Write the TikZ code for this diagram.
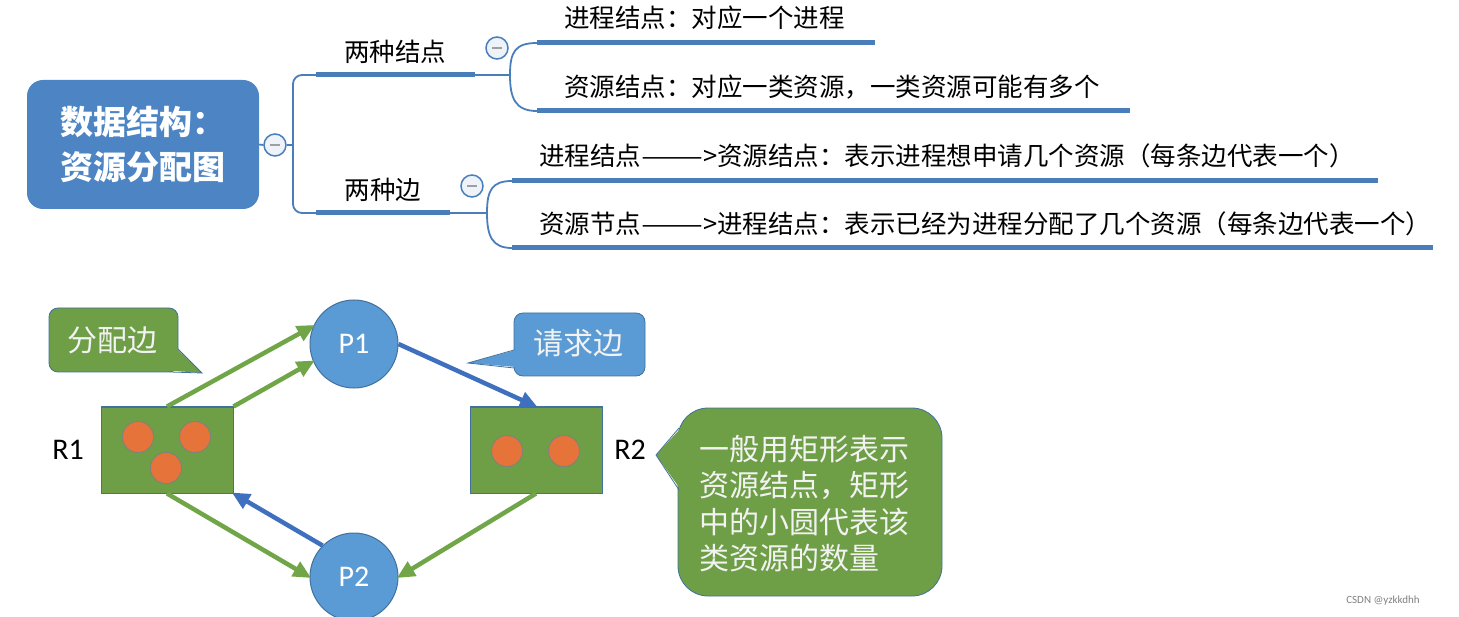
\documentclass[tikz,border=0pt]{standalone}
\usepackage{fontspec}
\setmainfont{Noto Sans CJK SC}
\newfontfamily\latfont{Carlito}
\usetikzlibrary{arrows.meta}
\definecolor{mmblue}{HTML}{4A7EBB}
\definecolor{rootfill}{HTML}{4C84C4}
\definecolor{minusfill}{HTML}{EEF3FA}
\definecolor{pfill}{HTML}{5B9BD5}
\definecolor{pborder}{HTML}{41719C}
\definecolor{grn}{HTML}{70A548}
\definecolor{gfill}{HTML}{6E9E45}
\definecolor{org}{HTML}{E6743A}
\definecolor{barrow}{HTML}{3F6FBF}
\definecolor{ltext}{HTML}{F2F2F2}
\newcommand{\wdash}{\scalebox{1.45}[1]{——}}
\tikzset{
  bar/.style={draw=mmblue, line width=5pt},
  thinline/.style={draw=mmblue, line width=1.8pt},
  minus/.style={circle, draw=mmblue, line width=1.5pt, fill=minusfill, minimum size=22pt, inner sep=0pt,
    path picture={\draw[gray!75, line width=2.2pt] ([xshift=-5pt]path picture bounding box.center) -- ([xshift=5pt]path picture bounding box.center);}},
  mmtext/.style={font=\fontsize{25.5}{30}\selectfont, inner sep=0pt, text=black},
  proc/.style={circle, fill=pfill, draw=pborder, line width=1pt, minimum size=88pt, inner sep=0pt,
    font=\latfont\fontsize{30}{32}\selectfont, text=white},
  res/.style={rectangle, fill=gfill, draw=pborder, line width=1pt, minimum width=132pt, minimum height=86pt, inner sep=0pt},
  unit/.style={circle, fill=org, draw=gray, line width=0.8pt, minimum size=31pt, inner sep=0pt},
  rlabel/.style={font=\latfont\fontsize{30}{32}\selectfont, text=black, inner sep=0pt},
  garrow/.style={draw=grn, line width=4.5pt, -{Triangle[length=18pt,width=16pt]}, shorten >=-2pt},
  barrowst/.style={draw=barrow, line width=4.5pt, -{Triangle[length=18pt,width=16pt]}, shorten >=-2pt},
  callout/.style={rounded corners=9pt, draw=pborder, line width=0.8pt},
  ctext/.style={font=\fontsize{30}{36.3}\selectfont, text=ltext, inner sep=0pt},
}
\begin{document}
\begin{tikzpicture}[x=1pt,y=-1pt]
\useasboundingbox (0,0) rectangle (1459,617);

% ---------- mind map ----------
\node[rectangle, rounded corners=16pt, fill=rootfill, minimum width=232pt, minimum height=129pt,
      text=white, align=center, font=\bfseries\fontsize{33}{45}\selectfont] (root) at (143,144.5)
      {数据结构：\\资源分配图};
\node[minus] (m0) at (275,145) {};
\draw[thinline] (root.east) -- (m0.west);
\coordinate (j0) at (293,145);
\draw[thinline] (m0.east) -- (j0);
\coordinate (b1a) at (316,75);
\coordinate (b1b) at (475,75);
\coordinate (b1c) at (510,75);
\coordinate (b2a) at (316,213);
\coordinate (b2b) at (450,213);
\coordinate (b2c) at (487,213);
\draw[thinline, rounded corners=9pt] (b1a) -- (293,75) -- (293,213) -- (b2a);
\draw[bar] (b1a) -- (b1b);
\draw[thinline] (b1b) -- (b1c);
\draw[bar] (b2a) -- (b2b);
\draw[thinline] (b2b) -- (b2c);
\node[mmtext] (t1) at (395,52) {两种结点};
\node[mmtext] (t2) at (383,190) {两种边};
\node[minus] (m1) at (497,48) {};
\node[minus] (m2) at (472,186) {};

% branch 1 leaves
\coordinate (l1a) at (537,43);
\coordinate (l1b) at (875,43);
\coordinate (l2a) at (537,111);
\coordinate (l2b) at (1130,111);
\draw[thinline] (b1c) .. controls (510,52) and (515,43) .. (l1a);
\draw[thinline] (b1c) .. controls (510,98) and (515,111) .. (l2a);
\draw[bar] (l1a) -- (l1b);
\draw[bar] (l2a) -- (l2b);
\node[mmtext, anchor=west] (n1) at (564,18) {进程结点：对应一个进程};
\node[mmtext, anchor=west] (n2) at (564,87) {资源结点：对应一类资源，一类资源可能有多个};

% branch 2 leaves
\coordinate (l3a) at (512,181);
\coordinate (l3b) at (1378,181);
\coordinate (l4a) at (512,248);
\coordinate (l4b) at (1433,248);
\draw[thinline] (b2c) .. controls (487,190) and (492,181) .. (l3a);
\draw[thinline] (b2c) .. controls (487,236) and (492,248) .. (l4a);
\draw[bar] (l3a) -- (l3b);
\draw[bar] (l4a) -- (l4b);
\node[mmtext, anchor=west] (n3) at (539,156) {进程结点\wdash>资源结点：表示进程想申请几个资源（每条边代表一个）};
\node[mmtext, anchor=west] (n4) at (539,224) {资源节点\wdash>进程结点：表示已经为进程分配了几个资源（每条边代表一个）};

% ---------- resource allocation graph ----------
\node[proc] (P1) at (354,344) {P1};
\node[proc] (P2) at (354,577) {P2};
\node[res] (R1) at (167,450) {};
\node[res] (R2) at (536,450) {};
\node[unit] (u1) at (138,437) {};
\node[unit] (u2) at (195,437) {};
\node[unit] (u3) at (166,468) {};
\node[unit] (u4) at (507,451) {};
\node[unit] (u5) at (564,451) {};
\node[rlabel] (L1) at (68,450) {R1};
\node[rlabel] (L2) at (630,450) {R2};

\draw[garrow] (R1.north) -- (P1.156);
\draw[garrow] (R1.north east) -- (P1.203);
\draw[barrowst] (P1.east) -- (R2.north);
\draw[barrowst] (P2.135) -- (R1.south east);
\draw[garrow] (R1.south) -- (P2.west);
\draw[garrow] (R2.south) -- (P2.east);

% ---------- callouts ----------
% 分配边
\draw[callout, fill=gfill] (49,308) rectangle (178,372);
\fill[gfill] (176,348) -- (202,373) -- (168,370.5) -- cycle;
\draw[pborder, line width=0.8pt] (178,349) -- (202,373) -- (170,372);
\node[ctext] (c1) at (112,340) {分配边};

% 请求边
\draw[callout, fill=pfill] (514,313) rectangle (645,376);
\fill[pfill] (516,350) -- (468,363) -- (516,367) -- cycle;
\draw[pborder, line width=0.8pt] (514,350) -- (468,363) -- (514,368);
\node[ctext] (c2) at (578,343) {请求边};

% big note
\draw[rounded corners=30pt, draw=pborder, line width=0.8pt, fill=gfill] (678,408) rectangle (942,596);
\fill[gfill] (681,428) -- (656,455) -- (681,490) -- cycle;
\draw[pborder, line width=0.8pt] (679,428) -- (656,455) -- (679,490);
\node[ctext, anchor=north west, align=left] (c3) at (699,435)
  {一般用矩形表示\\资源结点，矩形\\中的小圆代表该\\类资源的数量};

\node[font=\latfont\fontsize{11}{12}\selectfont, text=gray] (wm) at (1383,601) {CSDN @yzkkdhh};
\end{tikzpicture}
\end{document}
